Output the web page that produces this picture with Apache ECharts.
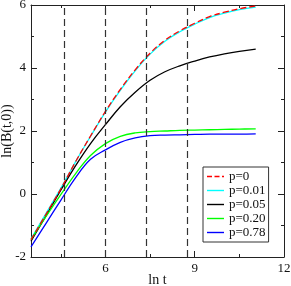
<!DOCTYPE html>
<html><head><meta charset="utf-8">
<script src="https://cdn.jsdelivr.net/npm/echarts@6/dist/echarts.min.js"></script>
<style>html,body{margin:0;padding:0;background:#fff}#c{width:291px;height:286px}</style>
</head><body><div id="c"></div>
<script>
const lnT = [3.5, 4.0, 4.5, 5.0, 5.5, 6.0, 6.5, 7.0, 7.5, 8.0, 8.5, 9.0, 9.5, 10.0, 10.5, 11.05];
const p000 = [-1.45, -0.65, 0.16, 1.03, 1.84, 2.62, 3.32, 3.94, 4.47, 4.88, 5.18, 5.42, 5.63, 5.77, 5.88, 5.97];
const p001 = [-1.42, -0.62, 0.18, 1.03, 1.83, 2.6, 3.29, 3.91, 4.44, 4.85, 5.15, 5.39, 5.6, 5.74, 5.85, 5.93];
const p005 = [-1.5, -0.7, 0.12, 0.9, 1.6, 2.2, 2.77, 3.23, 3.61, 3.88, 4.07, 4.22, 4.35, 4.45, 4.53, 4.6];
const p020 = [-1.45, -0.72, -0.02, 0.65, 1.22, 1.6, 1.83, 1.94, 1.98, 2.0, 2.02, 2.03, 2.04, 2.05, 2.06, 2.07];
const p078 = [-1.68, -0.94, -0.2, 0.52, 1.1, 1.4, 1.64, 1.78, 1.85, 1.87, 1.88, 1.89, 1.9, 1.9, 1.9, 1.91];
const names = ['p=0', 'p=0.01', 'p=0.05', 'p=0.20', 'p=0.78'];
const dashedX = [4.605, 5.991, 7.378, 8.764];
const xMajor = [6, 9, 12];
const xMinor = [4.5, 7.5, 10.5];

const font = 'Liberation Serif';
const axisCol = '#222';
const solidIcon = 'path://M0,0H17V1.4H0Z';
const dashIcon = 'path://M0,0H5V1.4H0Z M7.5,0H12.5V1.4H7.5Z M15,0H17V1.4H15Z';
function pairs(ys){ return lnT.map((x,i)=>[x, ys[i]]); }

function xAx(pos, ticks, len, labels, line){
  return {
    type:'value', position:pos, min:3.5, max:12, gridIndex:0,
    axisLine:{show:line, onZero:false, lineStyle:{color:axisCol, width:1}},
    axisTick:{show:true, inside:true, length:len, customValues:ticks, lineStyle:{color:axisCol}},
    axisLabel:{show:labels, customValues:xMajor, color:'#111', fontFamily:font, fontSize:13, margin:5},
    splitLine:{show:false},
    name: labels ? 'ln t' : '', nameLocation:'middle', nameGap:16, nameMoveOverlap:false,
    nameTextStyle:{fontFamily:font, fontSize:14, color:'#111'}
  };
}
function yAx(pos, labels){
  return {
    type:'value', position:pos, min:-2, max:6, interval:2,
    axisLine:{show:true, onZero:false, lineStyle:{color:axisCol, width:1}},
    axisTick:{show:true, inside:true, length:6, lineStyle:{color:axisCol}},
    minorTick:{show:true, splitNumber:2, length:3, lineStyle:{color:axisCol}},
    axisLabel:{show:labels, color:'#111', fontFamily:font, fontSize:13, margin:5},
    splitLine:{show:false},
    name: labels ? 'ln(B(t,0))' : '', nameLocation:'middle', nameGap:17, nameRotate:90, nameMoveOverlap:false,
    nameTextStyle:{fontFamily:font, fontSize:14, color:'#111'}
  };
}
function ser(name, data, color, dashed, z){
  return {
    name, type:'line', data:pairs(data), smooth:0.4, showSymbol:false, symbol:'none',
    xAxisIndex:0, yAxisIndex:0, z,
    lineStyle:{color, width:1.3, type: dashed ? [6,3] : 'solid'},
    itemStyle:{color}
  };
}
const series = [
  ser(names[1], p001, '#00ffff', false, 3),
  ser(names[2], p005, '#000000', false, 3),
  ser(names[3], p020, '#00ff00', false, 3),
  ser(names[4], p078, '#0000ff', false, 3),
  ser(names[0], p000, '#ff0000', true, 4)
];
series[1].markLine = {
  silent:true, symbol:'none', label:{show:false},
  lineStyle:{color:'#333', type:[7,4], width:1.2},
  data: dashedX.map(v=>({xAxis:v}))
};
const chart = echarts.init(document.getElementById('c'), null, {renderer:'canvas'});
chart.setOption({
  animation:false,
  backgroundColor:'#fff',
  grid:{left:31, right:7, top:5, bottom:29, containLabel:false, outerBoundsMode:'none'},
  xAxis:[
    xAx('bottom', xMajor, 6, true, true),
    xAx('bottom', xMinor, 3, false, false),
    xAx('top', xMajor, 6, false, true),
    xAx('top', xMinor, 3, false, false)
  ],
  yAxis:[yAx('left', true), yAx('right', false)],
  legend:{
    data: names.map((n,i)=>({name:n, icon: i===0 ? dashIcon : solidIcon})),
    orient:'vertical', left:203, top:167,
    itemWidth:17, itemHeight:14, itemGap:1, symbolKeepAspect:true,
    padding:[3,3,3,4],
    borderColor:'#333', borderWidth:1, backgroundColor:'#fff',
    textStyle:{fontFamily:font, fontSize:13, color:'#111'}
  },
  series
});
</script></body></html>
